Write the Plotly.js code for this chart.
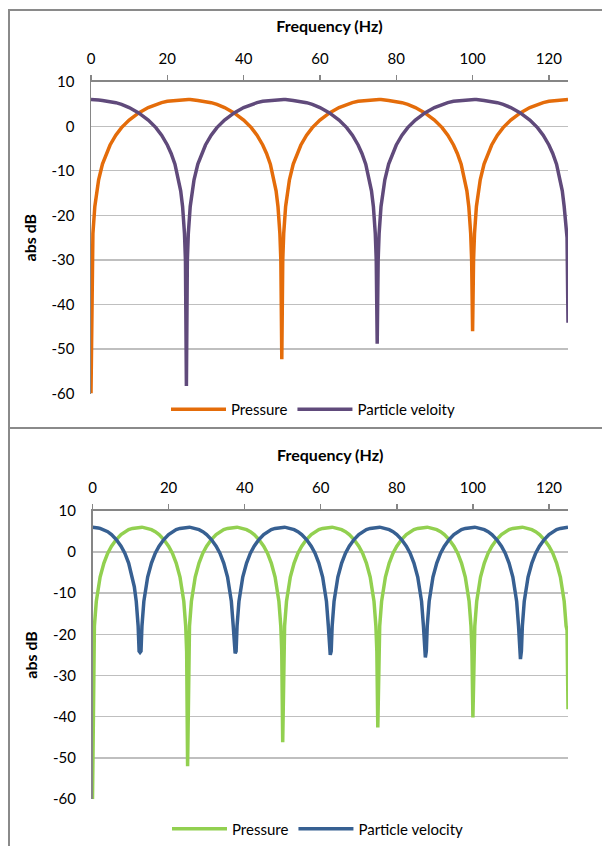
<!DOCTYPE html>
<html>
<head>
<meta charset="utf-8">
<script src="https://cdn.plot.ly/plotly-3.0.1.min.js"></script>
<style>
html,body{margin:0;padding:0;background:#fff;}
#chart{width:602px;height:846px;}
</style>
</head>
<body>
<div id="chart"></div>
<script>
// ---- Top panel data ----
var freqTop = [
 0,0.25,0.5,1,1.5,2,3,4,5,6.5,8,10,12.5,15,17,18.5,20,21,22,23,23.5,24,24.5,24.75,
 25,25.25,25.5,26,26.5,27,28,29,30,31.5,33,35,37.5,40,42,43.5,45,46,47,48,48.5,49,49.5,49.75,
 50,50.25,50.5,51,51.5,52,53,54,55,56.5,58,60,62.5,65,67,68.5,70,71,72,73,73.5,74,74.5,74.75,
 75,75.25,75.5,76,76.5,77,78,79,80,81.5,83,85,87.5,90,92,93.5,95,96,97,98,98.5,99,99.5,99.75,
 100,100.25,100.5,101,101.5,102,103,104,105,106.5,108,110,112.5,115,117,118.5,120,121,122,123,123.5,124,124.5,124.75,
 125];
var pressureTop = [
 -60,-30.1,-24.1,-18.0,-14.5,-12.0,-8.5,-6.1,-4.2,-2.0,-0.3,1.4,3.0,4.2,4.9,5.3,5.6,5.7,5.8,5.9,6.0,6.0,6.0,6.0,
 6.0,6.0,6.0,6.0,6.0,5.9,5.8,5.7,5.6,5.3,4.9,4.2,3.0,1.4,-0.3,-2.0,-4.2,-6.1,-8.5,-12.0,-14.5,-18.0,-24.1,-30.1,
 -52.3,-30.1,-24.1,-18.0,-14.5,-12.0,-8.5,-6.1,-4.2,-2.0,-0.3,1.4,3.0,4.2,4.9,5.3,5.6,5.7,5.8,5.9,6.0,6.0,6.0,6.0,
 6.0,6.0,6.0,6.0,6.0,5.9,5.8,5.7,5.6,5.3,4.9,4.2,3.0,1.4,-0.3,-2.0,-4.2,-6.1,-8.5,-12.0,-14.5,-18.0,-24.1,-30.1,
 -46.0,-30.1,-24.1,-18.0,-14.5,-12.0,-8.5,-6.1,-4.2,-2.0,-0.3,1.4,3.0,4.2,4.9,5.3,5.6,5.7,5.8,5.9,6.0,6.0,6.0,6.0,
 6.0];
var velocityTop = [
 6.0,6.0,6.0,6.0,6.0,5.9,5.8,5.7,5.6,5.3,4.9,4.2,3.0,1.4,-0.3,-2.0,-4.2,-6.1,-8.5,-12.0,-14.5,-18.0,-24.1,-30.1,
 -58.3,-30.1,-24.1,-18.0,-14.5,-12.0,-8.5,-6.1,-4.2,-2.0,-0.3,1.4,3.0,4.2,4.9,5.3,5.6,5.7,5.8,5.9,6.0,6.0,6.0,6.0,
 6.0,6.0,6.0,6.0,6.0,5.9,5.8,5.7,5.6,5.3,4.9,4.2,3.0,1.4,-0.3,-2.0,-4.2,-6.1,-8.5,-12.0,-14.5,-18.0,-24.1,-30.1,
 -48.8,-30.1,-24.1,-18.0,-14.5,-12.0,-8.5,-6.1,-4.2,-2.0,-0.3,1.4,3.0,4.2,4.9,5.3,5.6,5.7,5.8,5.9,6.0,6.0,6.0,6.0,
 6.0,6.0,6.0,6.0,6.0,5.9,5.8,5.7,5.6,5.3,4.9,4.2,3.0,1.4,-0.3,-2.0,-4.2,-6.1,-8.5,-12.0,-14.5,-18.0,-24.1,-25.0,
 -44.1];

// ---- Bottom panel data ----
var freqBottom = [
 0,0.25,0.5,1,1.5,2,3,4,5,6.25,7.5,8.5,9.5,10.5,11,11.5,12,12.25,
 12.5,12.75,13,13.5,14,14.5,15.5,16.5,17.5,18.75,20,21,22,23,23.5,24,24.5,24.75,
 25,25.25,25.5,26,26.5,27,28,29,30,31.25,32.5,33.5,34.5,35.5,36,36.5,37,37.25,
 37.5,37.75,38,38.5,39,39.5,40.5,41.5,42.5,43.75,45,46,47,48,48.5,49,49.5,49.75,
 50,50.25,50.5,51,51.5,52,53,54,55,56.25,57.5,58.5,59.5,60.5,61,61.5,62,62.25,
 62.5,62.75,63,63.5,64,64.5,65.5,66.5,67.5,68.75,70,71,72,73,73.5,74,74.5,74.75,
 75,75.25,75.5,76,76.5,77,78,79,80,81.25,82.5,83.5,84.5,85.5,86,86.5,87,87.25,
 87.5,87.75,88,88.5,89,89.5,90.5,91.5,92.5,93.75,95,96,97,98,98.5,99,99.5,99.75,
 100,100.25,100.5,101,101.5,102,103,104,105,106.25,107.5,108.5,109.5,110.5,111,111.5,112,112.25,
 112.5,112.75,113,113.5,114,114.5,115.5,116.5,117.5,118.75,120,121,122,123,123.5,124,124.5,124.75,
 125];
var pressureBottom = [
 -60,-24.1,-18.0,-12.0,-8.5,-6.1,-2.7,-0.3,1.4,3.0,4.2,4.9,5.4,5.7,5.8,5.9,6.0,6.0,
 6.0,6.0,6.0,5.9,5.8,5.7,5.4,4.9,4.2,3.0,1.4,-0.3,-2.7,-6.1,-8.5,-12.0,-18.0,-24.1,
 -52.0,-24.1,-18.0,-12.0,-8.5,-6.1,-2.7,-0.3,1.4,3.0,4.2,4.9,5.4,5.7,5.8,5.9,6.0,6.0,
 6.0,6.0,6.0,5.9,5.8,5.7,5.4,4.9,4.2,3.0,1.4,-0.3,-2.7,-6.1,-8.5,-12.0,-18.0,-24.1,
 -46.2,-24.1,-18.0,-12.0,-8.5,-6.1,-2.7,-0.3,1.4,3.0,4.2,4.9,5.4,5.7,5.8,5.9,6.0,6.0,
 6.0,6.0,6.0,5.9,5.8,5.7,5.4,4.9,4.2,3.0,1.4,-0.3,-2.7,-6.1,-8.5,-12.0,-18.0,-24.1,
 -42.6,-24.1,-18.0,-12.0,-8.5,-6.1,-2.7,-0.3,1.4,3.0,4.2,4.9,5.4,5.7,5.8,5.9,6.0,6.0,
 6.0,6.0,6.0,5.9,5.8,5.7,5.4,4.9,4.2,3.0,1.4,-0.3,-2.7,-6.1,-8.5,-12.0,-18.0,-24.1,
 -40.2,-24.1,-18.0,-12.0,-8.5,-6.1,-2.7,-0.3,1.4,3.0,4.2,4.9,5.4,5.7,5.8,5.9,6.0,6.0,
 6.0,6.0,6.0,5.9,5.8,5.7,5.4,4.9,4.2,3.0,1.4,-0.3,-2.7,-6.1,-8.5,-12.0,-18.0,-19.0,
 -38.2];
var velocityBottom = [
 6.0,6.0,6.0,5.9,5.8,5.7,5.4,4.9,4.2,3.0,1.4,-0.3,-2.7,-6.1,-8.5,-12.0,-18.0,-24.1,
 -24.4,-24.1,-18.0,-12.0,-8.5,-6.1,-2.7,-0.3,1.4,3.0,4.2,4.9,5.4,5.7,5.8,5.9,6.0,6.0,
 6.0,6.0,6.0,5.9,5.8,5.7,5.4,4.9,4.2,3.0,1.4,-0.3,-2.7,-6.1,-8.5,-12.0,-18.0,-24.1,
 -24.6,-24.1,-18.0,-12.0,-8.5,-6.1,-2.7,-0.3,1.4,3.0,4.2,4.9,5.4,5.7,5.8,5.9,6.0,6.0,
 6.0,6.0,6.0,5.9,5.8,5.7,5.4,4.9,4.2,3.0,1.4,-0.3,-2.7,-6.1,-8.5,-12.0,-18.0,-24.1,
 -25.0,-24.1,-18.0,-12.0,-8.5,-6.1,-2.7,-0.3,1.4,3.0,4.2,4.9,5.4,5.7,5.8,5.9,6.0,6.0,
 6.0,6.0,6.0,5.9,5.8,5.7,5.4,4.9,4.2,3.0,1.4,-0.3,-2.7,-6.1,-8.5,-12.0,-18.0,-24.1,
 -25.6,-24.1,-18.0,-12.0,-8.5,-6.1,-2.7,-0.3,1.4,3.0,4.2,4.9,5.4,5.7,5.8,5.9,6.0,6.0,
 6.0,6.0,6.0,5.9,5.8,5.7,5.4,4.9,4.2,3.0,1.4,-0.3,-2.7,-6.1,-8.5,-12.0,-18.0,-24.1,
 -26.0,-24.1,-18.0,-12.0,-8.5,-6.1,-2.7,-0.3,1.4,3.0,4.2,4.9,5.4,5.7,5.8,5.9,6.0,6.0,
 6.0];

var xTicks = [0,20,40,60,80,100,120];
var yTicks = [-60,-50,-40,-30,-20,-10,0,10];
var topNames = ['Pressure','Particle veloity'];
var bottomNames = ['Pressure','Particle velocity'];

var W = 602, H = 846;
function px(x){ return x / W; }
function py(y){ return 1 - y / H; }

var FONT = 'Lato, "Open Sans", "Liberation Sans", sans-serif';
var AXIS_GREY = '#868686';
var GRID_GREY = '#bfbfbf';
var LW = 3.5;

var traces = [
  {x: freqTop, y: pressureTop, name: topNames[0], type: 'scatter', mode: 'lines',
   line: {color: '#E46C0A', width: LW}, xaxis: 'x', yaxis: 'y', legend: 'legend'},
  {x: freqTop, y: velocityTop, name: topNames[1], type: 'scatter', mode: 'lines',
   line: {color: '#604A7B', width: LW}, xaxis: 'x', yaxis: 'y', legend: 'legend'},
  {x: freqBottom, y: pressureBottom, name: bottomNames[0], type: 'scatter', mode: 'lines',
   line: {color: '#92D050', width: LW}, xaxis: 'x2', yaxis: 'y2', legend: 'legend2'},
  {x: freqBottom, y: velocityBottom, name: bottomNames[1], type: 'scatter', mode: 'lines',
   line: {color: '#376092', width: LW}, xaxis: 'x2', yaxis: 'y2', legend: 'legend2'}
];

function xAxis(dom, anchor){
  return {
    domain: dom, anchor: anchor, side: 'top', range: [0,125],
    tickvals: xTicks, ticktext: xTicks.map(String),
    showline: true, linecolor: AXIS_GREY, linewidth: 1.5,
    ticks: 'outside', ticklen: 5, tickwidth: 1.5, tickcolor: AXIS_GREY,
    ticklabelstandoff: 5,
    showgrid: false, zeroline: false,
    tickfont: {family: FONT, size: 15, color: '#000'},
    title: {text: '<b>Frequency (Hz)</b>', font: {family: FONT, size: 16, color: '#000'}, standoff: 12}
  };
}
function yAxis(dom, anchor){
  return {
    domain: dom, anchor: anchor, range: [-60,10],
    tickvals: yTicks, ticktext: yTicks.map(String),
    showline: true, linecolor: AXIS_GREY, linewidth: 1.5,
    ticks: '', ticklabelstandoff: 12,
    showgrid: true, gridcolor: GRID_GREY, gridwidth: 1.3, zeroline: false,
    tickfont: {family: FONT, size: 15, color: '#000'},
    title: {text: '<b>abs dB</b>', font: {family: FONT, size: 16, color: '#000'}, standoff: 11}
  };
}

var layout = {
  width: W, height: H,
  margin: {l: 0, r: 0, t: 0, b: 0},
  paper_bgcolor: '#ffffff', plot_bgcolor: '#ffffff',
  font: {family: FONT, size: 15, color: '#000'},
  xaxis: xAxis([px(91), px(568)], 'y'),
  yaxis: yAxis([py(395), py(82)], 'x'),
  xaxis2: xAxis([px(92.5), px(568)], 'y2'),
  yaxis2: yAxis([py(802), py(512.5)], 'x2'),
  showlegend: true,
  legend: {orientation: 'h', x: px(313), xanchor: 'center', y: py(411), yanchor: 'middle',
           itemwidth: 55, bgcolor: 'rgba(0,0,0,0)', font: {family: FONT, size: 15, color: '#000'}},
  legend2: {orientation: 'h', x: px(318), xanchor: 'center', y: py(832), yanchor: 'middle',
           itemwidth: 55, bgcolor: 'rgba(0,0,0,0)', font: {family: FONT, size: 15, color: '#000'}},
  shapes: [
    {type: 'rect', xref: 'paper', yref: 'paper', x0: px(9), x1: 1.02, y0: py(429.5), y1: py(10),
     line: {color: '#8a8a8a', width: 2}, fillcolor: 'rgba(0,0,0,0)', layer: 'below'},
    {type: 'line', xref: 'paper', yref: 'paper', x0: px(9), x1: px(9), y0: py(429.5), y1: -0.02,
     line: {color: '#8a8a8a', width: 2}, layer: 'below'}
  ]
};

Plotly.newPlot('chart', traces, layout, {displayModeBar: false, staticPlot: true});
</script>
</body>
</html>
